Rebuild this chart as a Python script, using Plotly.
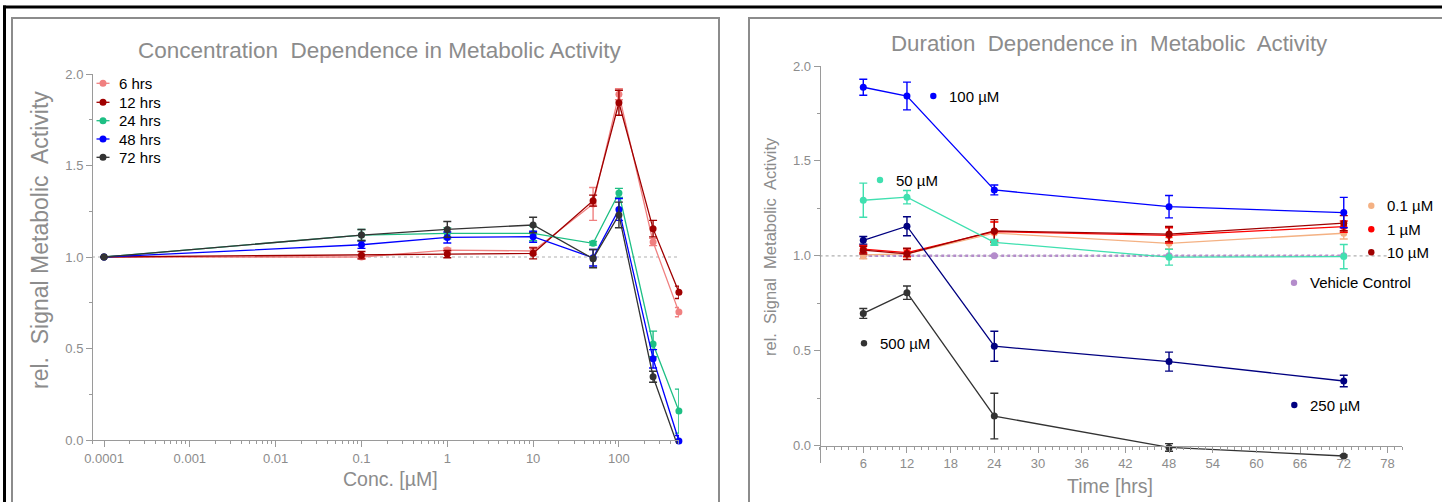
import plotly.graph_objects as go

W, H = 1442, 502

# ---------------- data: concentration dependence ----------------
conc = [0.0001, 0.1, 1, 10, 50, 100, 250, 500]
hrs_labels = ["6 hrs", "12 hrs", "24 hrs", "48 hrs", "72 hrs"]
act_6h = [1.0, 1.0, 1.038, 1.033, 1.29, 1.889, 1.082, 0.699]
err_6h = [0, 0.01, 0.01, 0.02, 0.09, 0.03, 0.02, 0.025]
act_12h = [1.0, 1.01, 1.016, 1.02, 1.308, 1.843, 1.155, 0.807]
err_12h = [0, 0.02, 0.02, 0.03, 0.03, 0.068, 0.045, 0.034]
act_24h = [1.0, 1.12, 1.129, 1.129, 1.075, 1.35, 0.525, 0.158]
err_24h = [0, 0.03, 0.03, 0.04, 0.01, 0.025, 0.07, 0.12]
act_48h = [1.0, 1.067, 1.107, 1.111, 0.996, 1.26, 0.444, -0.005]
err_48h = [0, 0.02, 0.03, 0.03, 0.045, 0.06, 0.05, 0.03]
act_72h = [1.0, 1.12, 1.151, 1.175, 0.991, 1.23, 0.346, -0.05]
err_72h = [0, 0.03, 0.043, 0.042, 0.05, 0.07, 0.03, 0.01]
hrs_colors = ["#F08080", "#A00000", "#1DBF84", "#0000FF", "#333333"]

conc_ticks = [0.0001, 0.001, 0.01, 0.1, 1, 10, 100]
conc_ticktext = ["0.0001", "0.001", "0.01", "0.1", "1", "10", "100"]

# ---------------- data: duration dependence ----------------
time_h = [6, 12, 24, 48, 72]
dose_labels = ["0.1 \u00b5M", "1 \u00b5M", "10 \u00b5M", "50 \u00b5M", "100 \u00b5M",
               "250 \u00b5M", "500 \u00b5M", "Vehicle Control"]
d01 = [1.005, 1.01, 1.12, 1.066, 1.119]
e01 = [0.02, 0.02, 0.06, 0.03, 0.03]
d1 = [1.036, 1.017, 1.128, 1.108, 1.154]
e1 = [0.02, 0.02, 0.05, 0.04, 0.03]
d10 = [1.03, 1.01, 1.131, 1.115, 1.172]
e10 = [0.02, 0.03, 0.06, 0.04, 0.04]
d50 = [1.293, 1.309, 1.071, 0.993, 0.996]
e50 = [0.09, 0.035, 0.015, 0.042, 0.064]
d100 = [1.888, 1.842, 1.347, 1.259, 1.228]
e100 = [0.042, 0.073, 0.026, 0.059, 0.08]
d250 = [1.082, 1.156, 0.524, 0.443, 0.341]
e250 = [0.02, 0.05, 0.079, 0.05, 0.03]
d500 = [0.697, 0.806, 0.156, -0.009, -0.054]
e500 = [0.026, 0.035, 0.12, 0.02, 0.005]
dveh = [1.0, 1.0, 1.0, 1.0, 1.0]
dose_colors = ["#F4B183", "#FF0000", "#A00000", "#40E0B0", "#0000FF", "#000080", "#333333", "#B48CCB"]

time_ticks = [6, 12, 18, 24, 30, 36, 42, 48, 54, 60, 66, 72, 78]

# ---------------- helpers ----------------
def px(x):
    return x / W

def py(y):
    return 1 - y / H

FONT = "Arial, Liberation Sans, sans-serif"
GREY = "#8c8c8c"
AXIS = "#9a9a9a"

fig = go.Figure()

left_series = [act_6h, act_12h, act_24h, act_48h, act_72h]
left_errs = [err_6h, err_12h, err_24h, err_48h, err_72h]
for name, ys, es, col in zip(hrs_labels, left_series, left_errs, hrs_colors):
    fig.add_trace(go.Scatter(
        x=conc, y=ys, name=name, mode="lines+markers",
        line=dict(color=col, width=1.3), marker=dict(color=col, size=7),
        error_y=dict(type="data", array=es, color=col, thickness=1.4, width=4),
        xaxis="x", yaxis="y", cliponaxis=False, showlegend=False))

right_series = [d01, d1, d10, d50, d100, d250, d500]
right_errs = [e01, e1, e10, e50, e100, e250, e500]
fig.add_trace(go.Scatter(
    x=time_h, y=dveh, name=dose_labels[7], mode="lines+markers",
    line=dict(color=dose_colors[7], width=2.5, dash="dot"),
    marker=dict(color=dose_colors[7], size=7),
    xaxis="x2", yaxis="y2", cliponaxis=False, showlegend=False))
for name, ys, es, col in zip(dose_labels[:7], right_series, right_errs, dose_colors[:7]):
    fig.add_trace(go.Scatter(
        x=time_h, y=ys, name=name, mode="lines+markers",
        line=dict(color=col, width=1.3), marker=dict(color=col, size=7),
        error_y=dict(type="data", array=es, color=col, thickness=1.4, width=4),
        xaxis="x2", yaxis="y2", cliponaxis=False, showlegend=False))

tickfont = dict(family=FONT, size=13, color=GREY)

minor_log = []
for e in range(-4, 3):
    for m in range(2, 10):
        v = m * 10 ** e
        if v <= 500:
            minor_log.append(v)

axis_common = dict(showgrid=False, zeroline=False, showline=True, linecolor=AXIS, linewidth=1,
                   ticks="outside", tickcolor=AXIS, tickwidth=1, tickfont=tickfont, automargin=False)

fig.update_layout(
    xaxis=dict(type="log", domain=[px(92), px(679)], range=[-4.14, 2.70],
               tickmode="array", tickvals=conc_ticks, ticktext=conc_ticktext, ticklen=6,
               minor=dict(tickvals=minor_log, ticks="outside", ticklen=3, tickcolor=AXIS),
               anchor="free", position=py(440), **axis_common),
    yaxis=dict(domain=[py(443.7), py(74)], range=[-0.02, 2.0], tickmode="array",
               tickvals=[0, 0.5, 1.0, 1.5, 2.0], ticktext=["0.0", "0.5", "1.0", "1.5", "2.0"],
               ticklen=6, minor=dict(dtick=0.25, tick0=0, ticks="outside", ticklen=3, tickcolor=AXIS),
               anchor="free", position=px(92), **axis_common),
    xaxis2=dict(domain=[px(819.6), px(1402)], range=[0, 80], tickmode="array", tickvals=time_ticks,
                ticklen=6, minor=dict(dtick=1, tick0=0, ticks="outside", ticklen=3, tickcolor=AXIS),
                anchor="free", position=py(445.7), **axis_common),
    yaxis2=dict(domain=[py(463), py(66)], range=[-0.091, 2.0], tickmode="array",
                tickvals=[0, 0.5, 1.0, 1.5, 2.0], ticktext=["0.0", "0.5", "1.0", "1.5", "2.0"],
                ticklen=6, minor=dict(dtick=0.25, tick0=0, ticks="outside", ticklen=3, tickcolor=AXIS),
                anchor="free", position=px(819.6), **axis_common),
)

shapes = []
shapes.append(dict(type="line", xref="x domain", yref="y", x0=0, x1=1, y0=1, y1=1,
                   line=dict(color="#b0b0b0", width=1.2, dash="dot"), layer="below"))
shapes.append(dict(type="line", xref="x2 domain", yref="y2", x0=0, x1=0.975, y0=1, y1=1,
                   line=dict(color="#b0b0b0", width=1.2, dash="dot"), layer="below"))
shapes.append(dict(type="rect", xref="paper", yref="paper", x0=px(12), x1=px(719), y0=py(520), y1=py(18),
                   line=dict(color="#8c8c8c", width=2), layer="below"))
shapes.append(dict(type="rect", xref="paper", yref="paper", x0=px(749), x1=px(1460), y0=py(520), y1=py(18),
                   line=dict(color="#8c8c8c", width=2), layer="below"))
shapes.append(dict(type="line", xref="paper", yref="paper", x0=px(3), x1=px(1460), y0=py(7), y1=py(7),
                   line=dict(color="black", width=3)))
shapes.append(dict(type="line", xref="paper", yref="paper", x0=px(4.5), x1=px(4.5), y0=py(5.5), y1=py(520),
                   line=dict(color="black", width=3)))

annotations = []
annotations.append(dict(text="Concentration\u00a0 Dependence in Metabolic Activity", xref="paper", yref="paper",
                        x=px(380), y=py(50), xanchor="center", yanchor="middle", showarrow=False,
                        font=dict(family=FONT, size=22.5, color=GREY)))
annotations.append(dict(text="Duration\u00a0 Dependence in\u00a0 Metabolic\u00a0 Activity", xref="paper", yref="paper",
                        x=px(1109), y=py(43), xanchor="center", yanchor="middle", showarrow=False,
                        font=dict(family=FONT, size=22.3, color=GREY)))
annotations.append(dict(text="Conc. [\u00b5M]", xref="paper", yref="paper", x=px(390), y=py(479),
                        xanchor="center", yanchor="middle", showarrow=False,
                        font=dict(family=FONT, size=19.5, color=GREY)))
annotations.append(dict(text="Time [hrs]", xref="paper", yref="paper", x=px(1110), y=py(486),
                        xanchor="center", yanchor="middle", showarrow=False,
                        font=dict(family=FONT, size=19.5, color=GREY)))
annotations.append(dict(text="rel.\u00a0 Signal Metabolic\u00a0 Activity", xref="paper", yref="paper",
                        x=px(40), y=py(240), textangle=-90, xanchor="center", yanchor="middle",
                        showarrow=False, font=dict(family=FONT, size=23, color=GREY)))
annotations.append(dict(text="rel.\u00a0 Signal\u00a0 Metabolic\u00a0 Activity", xref="paper", yref="paper",
                        x=px(770), y=py(247), textangle=-90, xanchor="center", yanchor="middle",
                        showarrow=False, font=dict(family=FONT, size=16.5, color=GREY)))

leg_rows = [83.3, 102.3, 120.7, 139, 157.3]
for name, col, yy in zip(hrs_labels, hrs_colors, leg_rows):
    shapes.append(dict(type="line", xref="paper", yref="paper", x0=px(96.5), x1=px(109.5),
                       y0=py(yy), y1=py(yy), line=dict(color=col, width=1.3)))
    shapes.append(dict(type="circle", xref="paper", yref="paper", xsizemode="pixel", ysizemode="pixel",
                       xanchor=px(103), yanchor=py(yy), x0=-3.5, x1=3.5, y0=-3.5, y1=3.5,
                       fillcolor=col, line=dict(color=col, width=0)))
    annotations.append(dict(text=name, xref="paper", yref="paper", x=px(117), y=py(yy),
                            xanchor="left", yanchor="middle", showarrow=False,
                            font=dict(family=FONT, size=15, color="black")))

right_label_pos = {
    "0.1 \u00b5M": (1371.3, 205.7),
    "1 \u00b5M": (1371.3, 229.3),
    "10 \u00b5M": (1371.3, 252.3),
    "50 \u00b5M": (880, 180),
    "100 \u00b5M": (933.3, 96),
    "250 \u00b5M": (1294.3, 405),
    "500 \u00b5M": (864, 343.3),
    "Vehicle Control": (1294, 282.7),
}
for name, col in zip(dose_labels, dose_colors):
    xx, yy = right_label_pos[name]
    shapes.append(dict(type="circle", xref="paper", yref="paper", xsizemode="pixel", ysizemode="pixel",
                       xanchor=px(xx), yanchor=py(yy), x0=-3.2, x1=3.2, y0=-3.2, y1=3.2,
                       fillcolor=col, line=dict(color=col, width=0)))
    annotations.append(dict(text=name, xref="paper", yref="paper", x=px(xx + 14), y=py(yy),
                            xanchor="left", yanchor="middle", showarrow=False,
                            font=dict(family=FONT, size=15, color="black")))

fig.update_layout(
    width=W, height=H, margin=dict(l=0, r=0, t=0, b=0, pad=0, autoexpand=False),
    paper_bgcolor="white", plot_bgcolor="white",
    shapes=shapes, annotations=annotations, showlegend=False,
    font=dict(family=FONT),
)

fig.write_html("out.html")
